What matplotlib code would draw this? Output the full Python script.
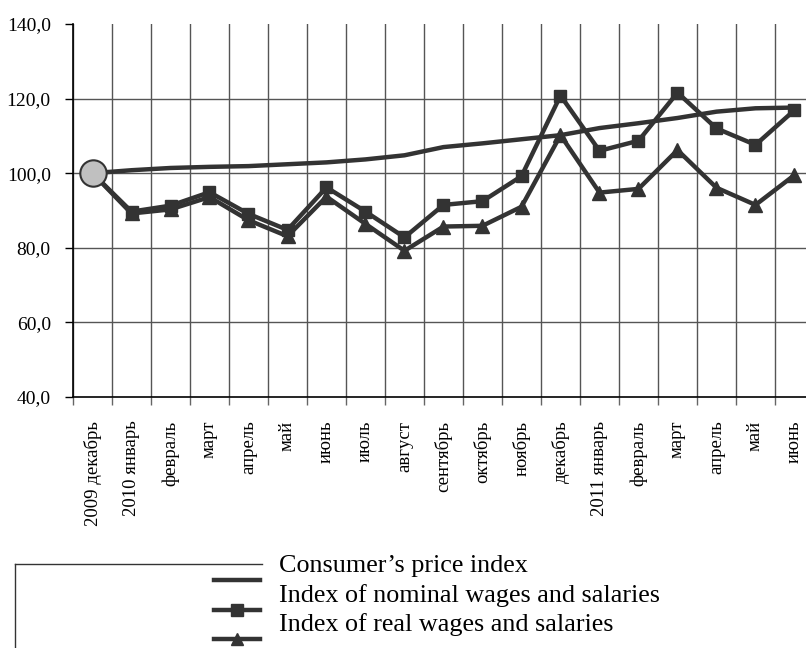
import matplotlib
matplotlib.use("Agg")
import matplotlib.pyplot as plt
from matplotlib.lines import Line2D
import numpy as np

plt.rcParams["font.family"] = ["Liberation Serif", "DejaVu Serif"]

months = ["2009 декабрь", "2010 январь", "февраль", "март", "апрель", "май",
          "июнь", "июль", "август", "сентябрь", "октябрь", "ноябрь", "декабрь",
          "2011 январь", "февраль", "март", "апрель", "май", "июнь"]

cpi = [100.0, 100.8, 101.4, 101.7, 101.9, 102.4, 102.9, 103.7, 104.8, 107.0,
       108.0, 109.1, 110.2, 112.1, 113.4, 114.8, 116.5, 117.4, 117.6]
nominal = [100.0, 89.7, 91.3, 94.9, 89.1, 84.8, 96.2, 89.7, 82.8, 91.5,
           92.5, 99.2, 120.8, 106.0, 108.7, 121.6, 112.0, 107.6, 116.9]
real = [100.0, 89.2, 90.3, 93.6, 87.4, 83.1, 93.7, 86.4, 79.2, 85.7,
        85.9, 91.0, 110.2, 94.8, 95.8, 106.2, 96.1, 91.5, 99.5]

W, H = 806, 648
fig = plt.figure(figsize=(W / 100, H / 100), dpi=100)
ax = fig.add_axes([73 / W, 1 - 397 / H, 741 / W, 373 / H])

x = np.arange(len(months))
col = "#333333"
lw = 3.2

ax.plot(x, real, color=col, lw=lw, marker="^", ms=9.5, zorder=4)
ax.plot(x, nominal, color=col, lw=lw, marker="s", ms=9, zorder=5)
ax.plot(x, cpi, color=col, lw=lw, zorder=6)
ax.plot(x[0], cpi[0], marker="o", ms=19, mfc="#c0c0c0", mec=col, mew=1.5, zorder=7)

ax.set_xlim(-0.5, len(months) - 0.5)
ax.set_ylim(40, 140)
yt = np.arange(40, 141, 20)
ax.set_yticks(yt)
ax.set_yticklabels([f"{v:.1f}".replace(".", ",") for v in yt])
ax.set_xticks(x)
ax.set_xticklabels(months, rotation=90, fontsize=13.5)
ax.set_xticks(np.arange(-0.5, len(months)), minor=True)

ax.tick_params(axis="x", which="major", length=0, pad=17)
ax.tick_params(axis="x", which="minor", length=6, width=1, color="#666666")
ax.tick_params(axis="y", length=6, width=1, labelsize=14, pad=10)

for v in range(60, 140, 20):
    ax.axhline(v, color="#555555", lw=1, zorder=1)
ax.grid(True, axis="x", which="minor", color="#555555", lw=1, zorder=1)

for s in ["top", "right"]:
    ax.spines[s].set_visible(False)
ax.spines["left"].set_linewidth(1.2)
ax.spines["bottom"].set_linewidth(1.2)

# legend drawn by hand: frame edges, sample handles and labels
fig.add_artist(Line2D([15 / W, 262 / W], [1 - 564 / H, 1 - 564 / H], color=col, lw=1))
fig.add_artist(Line2D([15 / W, 15 / W], [1 - 564 / H, 0], color=col, lw=1))
labels = ["Consumer\u2019s price index", "Index of nominal wages and salaries",
          "Index of real wages and salaries"]
markers = [None, "s", "^"]
for i, (lab, m) in enumerate(zip(labels, markers)):
    ty = 1 - (566 + 29.5 * i) / H
    hy = 1 - (580 + 29.5 * i) / H
    fig.add_artist(Line2D([214 / W, 260 / W], [hy, hy], color=col, lw=lw))
    if m:
        fig.add_artist(Line2D([237 / W], [hy], color=col, marker=m, ms=8))
    fig.text(279 / W, ty, lab, fontsize=18.8, va="center", ha="left")

fig.savefig("out.png", dpi=100)
